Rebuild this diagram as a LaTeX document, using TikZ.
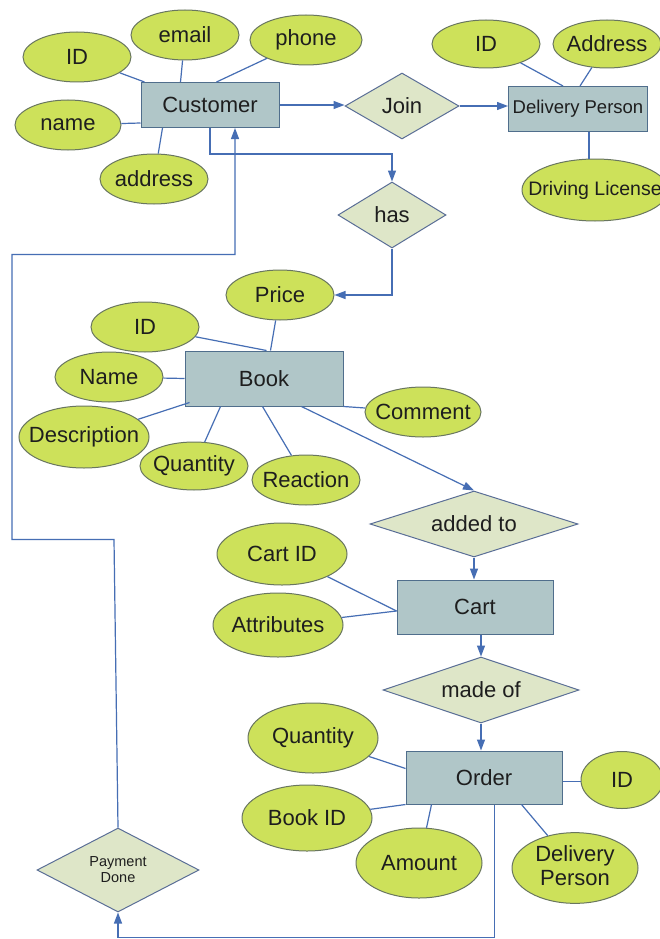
\documentclass[tikz,border=0pt]{standalone}
\usepackage{fontspec}
\setmainfont{Liberation Sans}
\usetikzlibrary{shapes.geometric,arrows.meta}
\definecolor{attrfill}{RGB}{205,225,90}
\definecolor{attrdraw}{RGB}{105,118,95}
\definecolor{entfill}{RGB}{176,198,200}
\definecolor{entdraw}{RGB}{80,110,140}
\definecolor{relfill}{RGB}{222,230,200}
\definecolor{reldraw}{RGB}{90,110,150}
\definecolor{linec}{RGB}{70,110,180}
\definecolor{txt}{RGB}{30,30,30}
\newcommand{\zb}[1]{\makebox[0pt]{#1}}
\tikzset{
  attr/.style={ellipse, draw=attrdraw, fill=attrfill, line width=1pt, inner sep=0pt,
    text=txt, font=\fontsize{22}{26}\selectfont},
  ent/.style={rectangle, draw=entdraw, fill=entfill, line width=1pt, inner sep=0pt,
    text=txt, font=\fontsize{22}{26}\selectfont},
  rel/.style={diamond, draw=reldraw, fill=relfill, line width=1pt, inner sep=0pt, aspect=3,
    text=txt, font=\fontsize{22}{26}\selectfont, align=center},
  conn/.style={draw=linec, line width=1.2pt},
  arr/.style={conn, -{Triangle[length=11pt,width=8pt]}},
}
\begin{document}
\begin{tikzpicture}[x=1pt,y=-1pt]
\useasboundingbox (0,0) rectangle (660,939);
\fill[white] (0,0) rectangle (660,939);

% ---------- Customer ----------
\node[ent, minimum width=138pt, minimum height=45pt] (cust) at (210,105) {Customer};
\node[attr, minimum width=108pt, minimum height=50pt] (cid) at (77,57) {\zb{ID}};
\node[attr, minimum width=108pt, minimum height=50pt] (email) at (185,35) {\zb{email}};
\node[attr, minimum width=112pt, minimum height=50pt] (phone) at (306,40) {\zb{phone}};
\node[attr, minimum width=106pt, minimum height=50pt] (cname) at (68,125) {\zb{name}};
\node[attr, minimum width=108pt, minimum height=50pt] (caddr) at (154,179) {\zb{address}};

% ---------- Join / Delivery Person ----------
\node[rel, minimum width=114pt, minimum height=66pt] (join) at (402,106) {Join};
\node[ent, minimum width=139pt, minimum height=45pt, font=\fontsize{18.5}{22}\selectfont] (dp) at (578,109) {Delivery Person};
\node[attr, minimum width=108pt, minimum height=48pt] (dpid) at (486,44) {\zb{ID}};
\node[attr, minimum width=108pt, minimum height=48pt] (dpaddr) at (607,44) {\zb{Address}};
\node[attr, minimum width=146pt, minimum height=62pt, font=\fontsize{19.5}{23}\selectfont] (dl) at (595,190) {\zb{Driving License}};

% ---------- has ----------
\node[rel, minimum width=108pt, minimum height=66pt] (has) at (392,215) {has};

% ---------- Book ----------
\node[ent, minimum width=158pt, minimum height=55pt] (book) at (264,378.5) {Book};
\node[attr, minimum width=108pt, minimum height=50pt] (price) at (280,295) {\zb{Price}};
\node[attr, minimum width=108pt, minimum height=50pt] (bid) at (145,327) {\zb{ID}};
\node[attr, minimum width=108pt, minimum height=50pt] (bname) at (109,377) {\zb{Name}};
\node[attr, minimum width=130pt, minimum height=62pt] (desc) at (84,437) {\zb{Description}};
\node[attr, minimum width=108pt, minimum height=48pt] (bqty) at (194,466) {\zb{Quantity}};
\node[attr, minimum width=108pt, minimum height=50pt] (react) at (306,480) {\zb{Reaction}};
\node[attr, minimum width=116pt, minimum height=50pt] (comment) at (423,412) {\zb{Comment}};

% ---------- added to / Cart ----------
\node[rel, minimum width=208pt, minimum height=66pt] (added) at (474,524) {added to};
\node[ent, minimum width=156pt, minimum height=54pt] (cart) at (475,607) {Cart};
\node[attr, minimum width=130pt, minimum height=62pt] (cartid) at (282,554) {\zb{Cart ID}};
\node[attr, minimum width=130pt, minimum height=64pt] (cattr) at (278,625) {\zb{Attributes}};

% ---------- made of / Order ----------
\node[rel, minimum width=196pt, minimum height=66pt] (madeof) at (481,690) {made of};
\node[ent, minimum width=156pt, minimum height=53pt] (order) at (484,777.5) {Order};
\node[attr, minimum width=82pt, minimum height=57pt] (oid) at (622,780) {\zb{ID}};
\node[attr, minimum width=130pt, minimum height=70pt] (oqty) at (313,738) {\zb{Quantity}};
\node[attr, minimum width=130pt, minimum height=66pt] (obid) at (307,818) {\zb{Book ID}};
\node[attr, minimum width=126pt, minimum height=70pt] (amount) at (419,863) {\zb{Amount}};
\node[attr, minimum width=126pt, minimum height=70pt] (odp) at (575,868) {\zb{\begin{tabular}{@{}c@{}}Delivery\\[-2pt]Person\end{tabular}}};

% ---------- Payment Done ----------
\node[rel, aspect=2, minimum width=162pt, minimum height=84pt, font=\fontsize{14.5}{16}\selectfont] (pay) at (118,870) {Payment\\Done};

% ---------- connectors: attributes ----------
\draw[conn] (cid) -- ([xshift=4pt]cust.north west);
\draw[conn] (email) -- ([xshift=40pt]cust.north west);
\draw[conn] (phone) -- ([xshift=76pt]cust.north west);
\draw[conn] (cname) -- ([yshift=5pt]cust.south west);
\draw[conn] (caddr) -- ([xshift=22pt]cust.south west);

\draw[conn] (dpid) -- ([xshift=55pt]dp.north west);
\draw[conn] (dpaddr) -- ([xshift=72pt]dp.north west);
\draw[conn] ([xshift=11pt]dp.south) -- ([xshift=11pt]dp.south |- dl.north);

\draw[conn] (bid) -- ([xshift=82pt]book.north west);
\draw[conn] (price) -- ([xshift=86pt]book.north west);
\draw[conn] (bname) -- (book.west);
\draw[conn] (desc) -- ([xshift=5pt,yshift=4pt]book.south west);
\draw[conn] (bqty) -- ([xshift=36pt]book.south west);
\draw[conn] (react) -- ([xshift=78pt]book.south west);
\draw[conn] (comment) -- (book.south east);

\draw[conn] (cartid) -- ([yshift=-4pt]cart.west);
\draw[conn] (cattr) -- ([yshift=-4pt]cart.west);

\draw[conn] (oqty) -- ([yshift=9pt]order.west);
\draw[conn] (obid) -- (order.south west);
\draw[conn] (amount) -- ([xshift=26pt]order.south west);
\draw[conn] (odp) -- ([xshift=116pt]order.south west);
\draw[conn] ([yshift=-4pt]order.east) -- ([yshift=-4pt]order.east -| oid.west);

% ---------- connectors: relationships ----------
\draw[arr] (cust.east) -- (cust.east -| join.west);
\draw[arr] (join.east) -- (join.east -| dp.west);
\draw[arr] (cust.south) -- ++(0,26) -| (has.north);
\draw[arr] (has.south) |- (price.east);
\draw[arr] ([xshift=117pt]book.south west) -- (added.north);
\draw[arr] (added.south) -- (added.south |- cart.north);
\draw[arr] (madeof.north |- cart.south) -- (madeof.north);
\draw[arr] (madeof.south) -- (madeof.south |- order.north);
\draw[arr] ([xshift=89pt]order.south west) -- ++(0,133) -| (pay.south);
\coordinate (p1) at ([xshift=-4pt,yshift=288pt]pay.north);
\coordinate (p2) at ([xshift=-106pt,yshift=288pt]pay.north);
\coordinate (p3) at ([xshift=-106pt,yshift=573pt]pay.north);
\draw[arr] (pay.north) -- (p1) -- (p2) -- (p3) -| ([xshift=25pt]cust.south);
\end{tikzpicture}
\end{document}
